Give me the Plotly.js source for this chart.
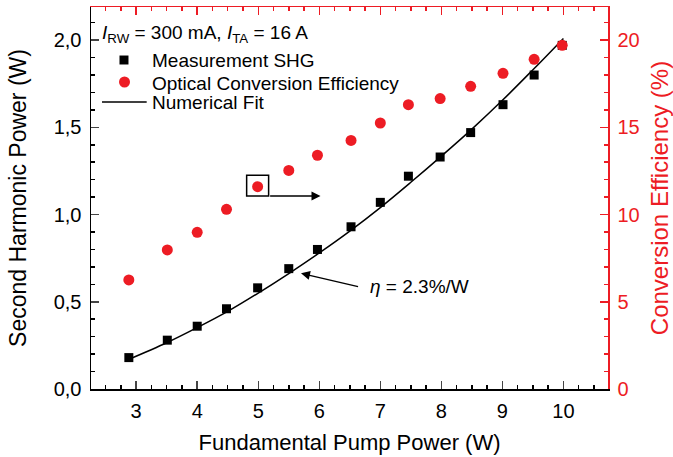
<!DOCTYPE html>
<html>
<head>
<meta charset="utf-8">
<script src="https://cdn.plot.ly/plotly-3.0.1.min.js"></script>
<style>html,body{margin:0;padding:0;background:#fff;}#chart{width:673px;height:457px;}</style>
</head>
<body>
<div id="chart"></div>
<script>
// Fundamental pump power (W)
const pumpPower = [2.88, 3.51, 4.0, 4.48, 4.99, 5.5, 5.97, 6.52, 7.0, 7.46, 7.98, 8.48, 9.01, 9.52, 9.98];
// Measured second harmonic power (W)
const shgPower = [0.18, 0.28, 0.36, 0.46, 0.58, 0.69, 0.80, 0.93, 1.07, 1.22, 1.33, 1.47, 1.63, 1.80, 1.97];
// Optical conversion efficiency (%)
const efficiency = [6.25, 7.97, 8.98, 10.3, 11.6, 12.53, 13.4, 14.25, 15.25, 16.3, 16.65, 17.35, 18.1, 18.9, 19.7];
// Numerical fit
const fitX = [2.88, 3.5, 4.0, 4.5, 5.0, 5.5, 6.0, 6.5, 7.0, 7.5, 8.0, 8.5, 9.0, 9.5, 10.0];
const fitY = [0.17, 0.265, 0.352, 0.445, 0.55, 0.662, 0.78, 0.905, 1.04, 1.185, 1.335, 1.49, 1.655, 1.83, 2.01];
// Legend labels
const legendTitle = '<i>I</i><sub>RW</sub> = 300 mA, <i>I</i><sub>TA</sub> = 16 A';
const seriesNames = ['Measurement SHG', 'Optical Conversion Efficiency', 'Numerical Fit'];

const RED = 'rgb(237,28,36)';
const FONT = 'Liberation Sans, Arial, sans-serif';

const traces = [
  {x: pumpPower, y: shgPower, type: 'scatter', mode: 'markers', name: seriesNames[0],
   marker: {symbol: 'square', size: 9, color: 'black'}, xaxis: 'x', yaxis: 'y'},
  {x: pumpPower, y: efficiency, type: 'scatter', mode: 'markers', name: seriesNames[1],
   marker: {symbol: 'circle', size: 11, color: RED}, xaxis: 'x2', yaxis: 'y2'},
  {x: fitX, y: fitY, type: 'scatter', mode: 'lines', name: seriesNames[2],
   line: {color: 'black', width: 1.5, shape: 'spline'}, xaxis: 'x', yaxis: 'y'}
];

const xr = [2.26, 10.73];
const legendText = (t, y) => ({xref: 'paper', yref: 'paper', x: 0.115, y: y, xanchor: 'left', yanchor: 'middle',
  showarrow: false, text: t, font: {size: 19, family: FONT, color: 'black'}});

const layout = {
  width: 673, height: 457,
  margin: {l: 91, r: 65, t: 7, b: 68},
  paper_bgcolor: 'white', plot_bgcolor: 'white',
  font: {family: FONT, color: 'black', size: 19},
  separators: ',.',
  showlegend: false,
  xaxis: {range: xr, dtick: 1, tick0: 0, ticks: 'inside', ticklen: 8, tickwidth: 1.5,
          showline: true, linecolor: 'black', linewidth: 1.5, showgrid: false, zeroline: false,
          tickfont: {size: 20}, ticklabelstandoff: 3,
          minor: {dtick: 0.25, tick0: 0, ticks: 'inside', ticklen: 4, tickwidth: 1.5, tickcolor: 'black'},
          title: {text: 'Fundamental Pump Power (W)', font: {size: 22}, standoff: 14}},
  xaxis2: {range: xr, overlaying: 'x', side: 'top', anchor: 'y2', dtick: 1, tick0: 0, ticks: 'inside', ticklen: 8, tickwidth: 1.5,
           tickcolor: RED, showticklabels: false, showline: true, linecolor: RED, linewidth: 1.5, showgrid: false, zeroline: false,
           minor: {dtick: 0.25, tick0: 0, ticks: 'inside', ticklen: 4, tickwidth: 1.5, tickcolor: RED}},
  yaxis: {range: [0, 2.19], dtick: 0.5, tick0: 0, tickformat: '.1f', ticks: 'inside', ticklen: 8, tickwidth: 1.5,
          showline: true, linecolor: 'black', linewidth: 1.5, showgrid: false, zeroline: false,
          tickfont: {size: 20}, ticklabelstandoff: 4,
          minor: {dtick: 0.1, tick0: 0, ticks: 'inside', ticklen: 4, tickwidth: 1.5, tickcolor: 'black'},
          title: {text: 'Second Harmonic Power (W)', font: {size: 23}, standoff: 20}},
  yaxis2: {range: [0, 21.9], overlaying: 'y', side: 'right', anchor: 'x2', dtick: 5, tick0: 0, ticks: 'inside', ticklen: 8, tickwidth: 1.5,
           tickcolor: RED, tickfont: {size: 20, color: RED}, ticklabelstandoff: 4, showline: true, linecolor: RED, linewidth: 1.5,
           showgrid: false, zeroline: false,
           minor: {dtick: 1, tick0: 0, ticks: 'inside', ticklen: 4, tickwidth: 1.5, tickcolor: RED},
           title: {text: 'Conversion Efficiency (%)', font: {size: 24, color: RED}, standoff: 12}},
  shapes: [
    {type: 'rect', xref: 'x2', yref: 'y2', x0: 4.81, x1: 5.17, y0: 11.06, y1: 12.26,
     line: {color: 'black', width: 1.5}, fillcolor: 'rgba(0,0,0,0)'},
    // legend keys
    {type: 'rect', xref: 'paper', yref: 'paper', x0: 0.0551, x1: 0.0725, y0: 0.8495, y1: 0.8730,
     line: {width: 0}, fillcolor: 'black'},
    {type: 'circle', xref: 'paper', yref: 'paper', x0: 0.0542, x1: 0.0754, y0: 0.7893, y1: 0.8181,
     line: {width: 0}, fillcolor: RED},
    {type: 'line', xref: 'paper', yref: 'paper', x0: 0.0213, x1: 0.1077, y0: 0.7513, y1: 0.7513,
     line: {color: 'black', width: 1.5}}
  ],
  annotations: [
    {xref: 'paper', yref: 'paper', x: 0.017, y: 0.929, xanchor: 'left', yanchor: 'middle', showarrow: false,
     text: legendTitle, font: {size: 19, family: FONT, color: 'black'}},
    legendText(seriesNames[0], 0.860),
    legendText(seriesNames[1], 0.801),
    legendText(seriesNames[2], 0.7487),
    {xref: 'x2', yref: 'y2', axref: 'x2', ayref: 'y2', x: 6.02, y: 11.06, ax: 5.17, ay: 11.06,
     text: '', showarrow: true, arrowhead: 2, arrowsize: 1.2, arrowwidth: 1.5, arrowcolor: 'black'},
    {xref: 'x', yref: 'y', axref: 'x', ayref: 'y', x: 5.7, y: 0.663, ax: 6.66, ay: 0.585,
     text: '', showarrow: true, arrowhead: 2, arrowsize: 1.2, arrowwidth: 1.5, arrowcolor: 'black'},
    {xref: 'x', yref: 'y', x: 6.8, y: 0.585, xanchor: 'left', yanchor: 'middle', showarrow: false,
     text: '<i>η</i> = 2.3%/W', font: {size: 19, family: FONT}}
  ]
};

Plotly.newPlot('chart', traces, layout, {displayModeBar: false, staticPlot: true});
</script>
</body>
</html>
